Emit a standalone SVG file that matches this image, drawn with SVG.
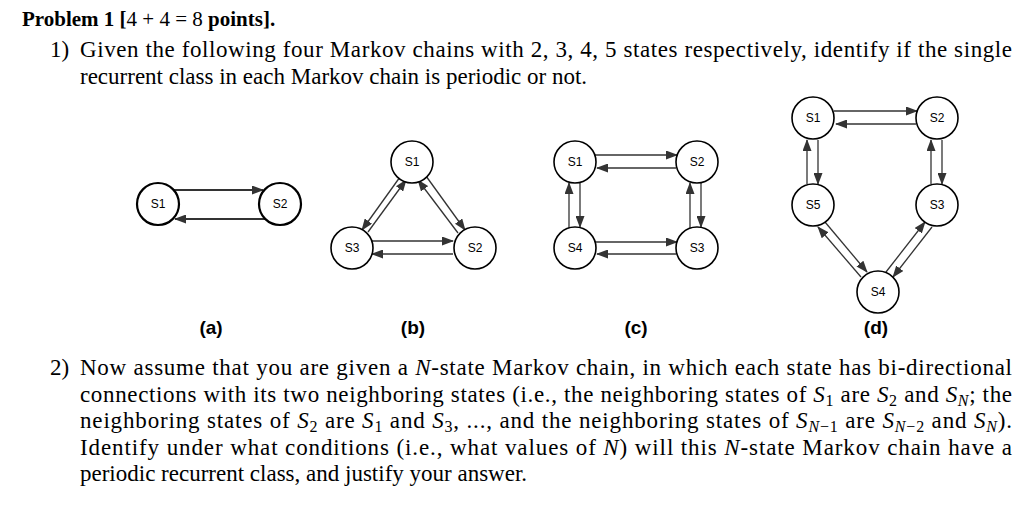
<svg xmlns="http://www.w3.org/2000/svg" width="1024" height="507" viewBox="0 0 1024 507">
<style>
.t{font-family:"Liberation Serif",serif;font-size:23px;fill:#000}
.i{font-style:italic}
.s{font-size:16px}
.n circle{fill:#fff;stroke:#000;stroke-width:1.6}
.n text{font-family:"Liberation Sans",Arial,sans-serif;font-size:12px;text-anchor:middle;fill:#000}
.c line{stroke:#333;stroke-width:1.3;marker-end:url(#ah)}
.lab{font-family:"Liberation Sans",Arial,sans-serif;font-size:19px;font-weight:bold;text-anchor:middle}
</style>
<defs><marker id="ah" markerWidth="12" markerHeight="9" refX="11" refY="4.5" orient="auto" markerUnits="userSpaceOnUse"><path d="M0,0 L12,4.5 L0,9 z" fill="#333"/></marker></defs>
<rect width="1024" height="507" fill="#fff"/>
<text class="t" x="22" y="26" style="font-size:21px"><tspan font-weight="bold">Problem 1 [</tspan>4 + 4 = 8<tspan font-weight="bold"> points].</tspan></text>
<text class="t" x="50" y="57">1)</text>
<text class="t" x="80" y="57" textLength="932" lengthAdjust="spacing">Given the following four Markov chains with 2, 3, 4, 5 states respectively, identify if the single</text>
<text class="t" x="80" y="84">recurrent class in each Markov chain is periodic or not.</text>
<text class="t" x="50" y="375">2)</text>
<text class="t" x="80" y="375" textLength="932" lengthAdjust="spacing">Now assume that you are given a <tspan class="i">N</tspan>-state Markov chain, in which each state has bi-directional</text>
<text class="t" x="80" y="402" textLength="932" lengthAdjust="spacing">connections with its two neighboring states (i.e., the neighboring states of <tspan class="i">S</tspan><tspan class="s" dy="4">1</tspan><tspan dy="-4"> are </tspan><tspan class="i">S</tspan><tspan class="s" dy="4">2</tspan><tspan dy="-4"> and </tspan><tspan class="i">S</tspan><tspan class="s i" dy="4">N</tspan><tspan dy="-4">; the</tspan></text>
<text class="t" x="80" y="428" textLength="932" lengthAdjust="spacing">neighboring states of <tspan class="i">S</tspan><tspan class="s" dy="4">2</tspan><tspan dy="-4"> are </tspan><tspan class="i">S</tspan><tspan class="s" dy="4">1</tspan><tspan dy="-4"> and </tspan><tspan class="i">S</tspan><tspan class="s" dy="4">3</tspan><tspan dy="-4">, ..., and the neighboring states of </tspan><tspan class="i">S</tspan><tspan class="s" dy="4"><tspan class="i">N</tspan>−1</tspan><tspan dy="-4"> are </tspan><tspan class="i">S</tspan><tspan class="s" dy="4"><tspan class="i">N</tspan>−2</tspan><tspan dy="-4"> and </tspan><tspan class="i">S</tspan><tspan class="s i" dy="4">N</tspan><tspan dy="-4">).</tspan></text>
<text class="t" x="80" y="455" textLength="932" lengthAdjust="spacing">Identify under what conditions (i.e., what values of <tspan class="i">N</tspan>) will this <tspan class="i">N</tspan>-state Markov chain have a</text>
<text class="t" x="80" y="481">periodic recurrent class, and justify your answer.</text>

<g id="connectors" class="c">
<line x1="173" y1="190" x2="263" y2="190" style="stroke-width:2"/>
<line x1="265" y1="219" x2="175" y2="219" style="stroke-width:2"/>
<line x1="400" y1="177" x2="362" y2="230"/>
<line x1="368" y1="232" x2="406" y2="180"/>
<line x1="426" y1="176" x2="465" y2="230"/>
<line x1="458" y1="233" x2="418" y2="180"/>
<line x1="372" y1="241" x2="453" y2="241"/>
<line x1="453" y1="254" x2="372" y2="254"/>
<line x1="595" y1="155" x2="677" y2="155"/>
<line x1="676" y1="168" x2="597" y2="168"/>
<line x1="595" y1="242" x2="677" y2="242"/>
<line x1="676" y1="254" x2="597" y2="254"/>
<line x1="569" y1="228" x2="569" y2="183"/>
<line x1="580" y1="183" x2="580" y2="227"/>
<line x1="690" y1="228" x2="690" y2="183"/>
<line x1="701" y1="183" x2="701" y2="227"/>
<line x1="834" y1="111" x2="917" y2="111"/>
<line x1="916" y1="124" x2="836" y2="124"/>
<line x1="807" y1="184" x2="807" y2="140"/>
<line x1="818" y1="140" x2="818" y2="184"/>
<line x1="931" y1="184" x2="931" y2="140"/>
<line x1="942" y1="140" x2="942" y2="184"/>
<line x1="825" y1="222" x2="867" y2="272"/>
<line x1="861" y1="277" x2="818" y2="227"/>
<line x1="886" y1="272" x2="925" y2="222"/>
<line x1="932" y1="227" x2="893" y2="277"/>
</g>

<g id="a-S1" class="n"><circle cx="158" cy="204" r="21" style="stroke-width:2.2"/><text x="158" y="208">S1</text></g>
<g id="a-S2" class="n"><circle cx="280" cy="204" r="21" style="stroke-width:2.2"/><text x="280" y="208">S2</text></g>
<g id="b-S1" class="n"><circle cx="412" cy="162" r="21"/><text x="412" y="166">S1</text></g>
<g id="b-S2" class="n"><circle cx="475" cy="248" r="21"/><text x="475" y="252">S2</text></g>
<g id="b-S3" class="n"><circle cx="352" cy="248" r="21"/><text x="352" y="252">S3</text></g>
<g id="c-S1" class="n"><circle cx="575" cy="162" r="21"/><text x="575" y="166">S1</text></g>
<g id="c-S2" class="n"><circle cx="697" cy="162" r="21"/><text x="697" y="166">S2</text></g>
<g id="c-S3" class="n"><circle cx="697" cy="248" r="21"/><text x="697" y="252">S3</text></g>
<g id="c-S4" class="n"><circle cx="575" cy="248" r="21"/><text x="575" y="252">S4</text></g>
<g id="d-S1" class="n"><circle cx="813" cy="118" r="21"/><text x="813" y="122">S1</text></g>
<g id="d-S2" class="n"><circle cx="937" cy="118" r="21"/><text x="937" y="122">S2</text></g>
<g id="d-S3" class="n"><circle cx="937" cy="205" r="21"/><text x="937" y="209">S3</text></g>
<g id="d-S4" class="n"><circle cx="878" cy="292" r="21"/><text x="878" y="296">S4</text></g>
<g id="d-S5" class="n"><circle cx="813" cy="205" r="21"/><text x="813" y="209">S5</text></g>

<text class="lab" x="211" y="334">(a)</text>
<text class="lab" x="413" y="334">(b)</text>
<text class="lab" x="636" y="334">(c)</text>
<text class="lab" x="876" y="334">(d)</text>
</svg>
